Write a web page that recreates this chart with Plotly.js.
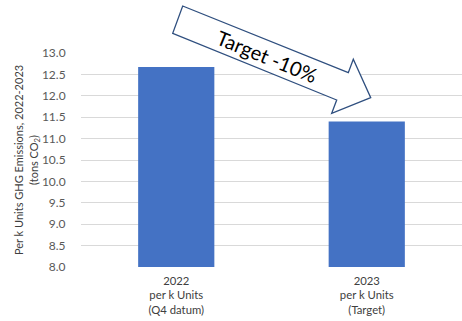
<!DOCTYPE html>
<html>
<head>
<meta charset="utf-8">
<script src="https://cdn.plot.ly/plotly-3.0.1.min.js"></script>
<style>html,body{margin:0;padding:0;background:#fff;}#chart{width:462px;height:321px;}</style>
</head>
<body>
<div id="chart"></div>
<script>
const categories = ["2022<br>per k Units<br>(Q4 datum)", "2023<br>per k Units<br>(Target)"];
const emissions = [12.67, 11.40];
const yTickValues = [8.0, 8.5, 9.0, 9.5, 10.0, 10.5, 11.0, 11.5, 12.0, 12.5, 13.0];
const yTickLabels = ["8.0", "8.5", "9.0", "9.5", "10.0", "10.5", "11.0", "11.5", "12.0", "12.5", "13.0"];
const arrowLabel = "Target -10%";
const yTitle = "Per k Units GHG Emissions, 2022-2023<br>(tons CO<sub>2</sub>)";

const font = "Lato, 'Liberation Sans', sans-serif";

// arrow outline in paper coordinates
const arrowPts = [[0.2669,1.2196],[0.7016,0.9079],[0.7147,0.9706],[0.7604,0.7911],[0.6580,0.7182],[0.6711,0.7804],[0.2407,1.0921]];
const arrowPath = "M " + arrowPts.map(p => p[0] + "," + p[1]).join(" L ") + " Z";

const data = [{
  type: "bar",
  x: categories,
  y: emissions,
  marker: {color: "#4472C4"},
  hoverinfo: "skip"
}];

const layout = {
  width: 462, height: 321,
  margin: {l: 81, r: 0, t: 53, b: 54},
  paper_bgcolor: "#ffffff",
  plot_bgcolor: "#ffffff",
  bargap: 0.6,
  showlegend: false,
  font: {family: font, color: "#595959", size: 12},
  xaxis: {
    showgrid: false, zeroline: false, showline: false,
    ticks: "outside", ticklen: 3, tickcolor: "rgba(0,0,0,0)",
    tickfont: {family: font, size: 11.3, color: "#404040"},
    automargin: false
  },
  yaxis: {
    range: [8, 13],
    tickvals: yTickValues, ticktext: yTickLabels,
    showgrid: true, gridcolor: "#D9D9D9", gridwidth: 1,
    zeroline: false, showline: false,
    ticks: "outside", ticklen: 12, tickcolor: "rgba(0,0,0,0)",
    tickfont: {family: font, size: 12, color: "#595959"},
    automargin: false,
    title: {text: yTitle, font: {family: font, size: 11, color: "#404040"}, standoff: 1}
  },
  shapes: [{
    type: "path", xref: "paper", yref: "paper",
    path: arrowPath,
    fillcolor: "#ffffff",
    line: {color: "#2F4F7F", width: 1.3}
  }],
  annotations: [{
    xref: "paper", yref: "paper", x: 0.487, y: 0.985,
    text: arrowLabel, showarrow: false, textangle: 22,
    font: {family: font, size: 20, color: "#000000"},
    xanchor: "center", yanchor: "middle"
  }]
};

Plotly.newPlot("chart", data, layout, {displayModeBar: false, staticPlot: true});
</script>
</body>
</html>
